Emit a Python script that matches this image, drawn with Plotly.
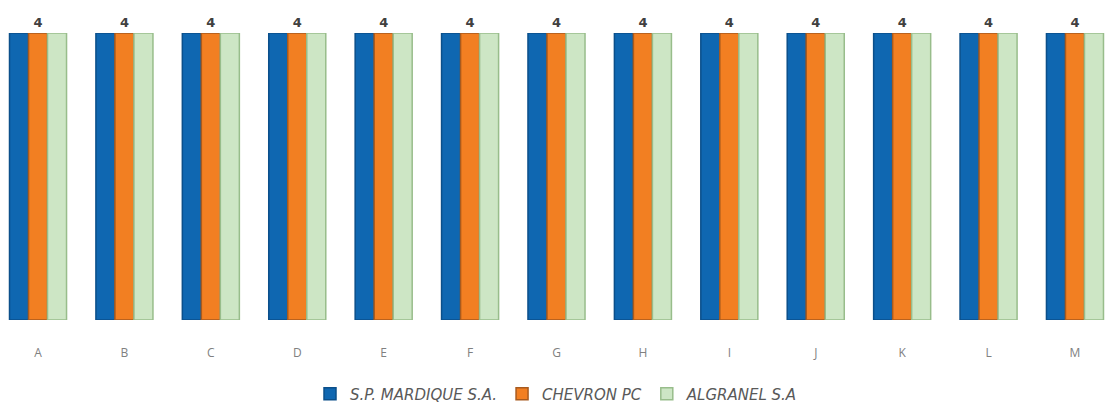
import plotly.graph_objects as go

categories = ["A", "B", "C", "D", "E", "F", "G", "H", "I", "J", "K", "L", "M"]
mardique = [4, 4, 4, 4, 4, 4, 4, 4, 4, 4, 4, 4, 4]
chevron = [4, 4, 4, 4, 4, 4, 4, 4, 4, 4, 4, 4, 4]
algranel = [4, 4, 4, 4, 4, 4, 4, 4, 4, 4, 4, 4, 4]

fig = go.Figure()
fig.add_trace(go.Bar(
    name="S.P. MARDIQUE S.A.", x=categories, y=mardique,
    marker=dict(color="#0f67b1", line=dict(color="#0b4f8a", width=1.5)),
))
fig.add_trace(go.Bar(
    name="CHEVRON PC", x=categories, y=chevron,
    marker=dict(color="#f27f22", line=dict(color="#a85a1e", width=1.5)),
    text=[str(v) for v in chevron], textposition="outside",
    textfont=dict(family="DejaVu Sans, sans-serif", size=13, color="#404040", weight="bold"),
    cliponaxis=False,
))
fig.add_trace(go.Bar(
    name="ALGRANEL S.A", x=categories, y=algranel,
    marker=dict(color="#cde6c5", line=dict(color="#98bd8b", width=1.5)),
))

fig.update_layout(
    width=1113, height=404,
    margin=dict(l=0, r=0, t=33, b=84, autoexpand=False),
    paper_bgcolor="white", plot_bgcolor="white",
    barmode="group", bargap=0.34, bargroupgap=0,
    showlegend=True,
    legend=dict(
        orientation="h", x=0.5, xanchor="center",
        yref="container", y=0.025, yanchor="middle",
        font=dict(family="DejaVu Sans, sans-serif", size=15, color="#595959",
                  style="italic"),
        itemwidth=30, traceorder="normal",
    ),
    xaxis=dict(
        range=[-0.44, 12.44], showgrid=False, zeroline=False, showline=False,
        ticks="", ticklabelstandoff=24,
        tickfont=dict(family="Open Sans, Arial, sans-serif", size=12, color="#808080"),
    ),
    yaxis=dict(range=[0, 4], visible=False, showgrid=False, zeroline=False),
)

fig.write_html("out.html")
